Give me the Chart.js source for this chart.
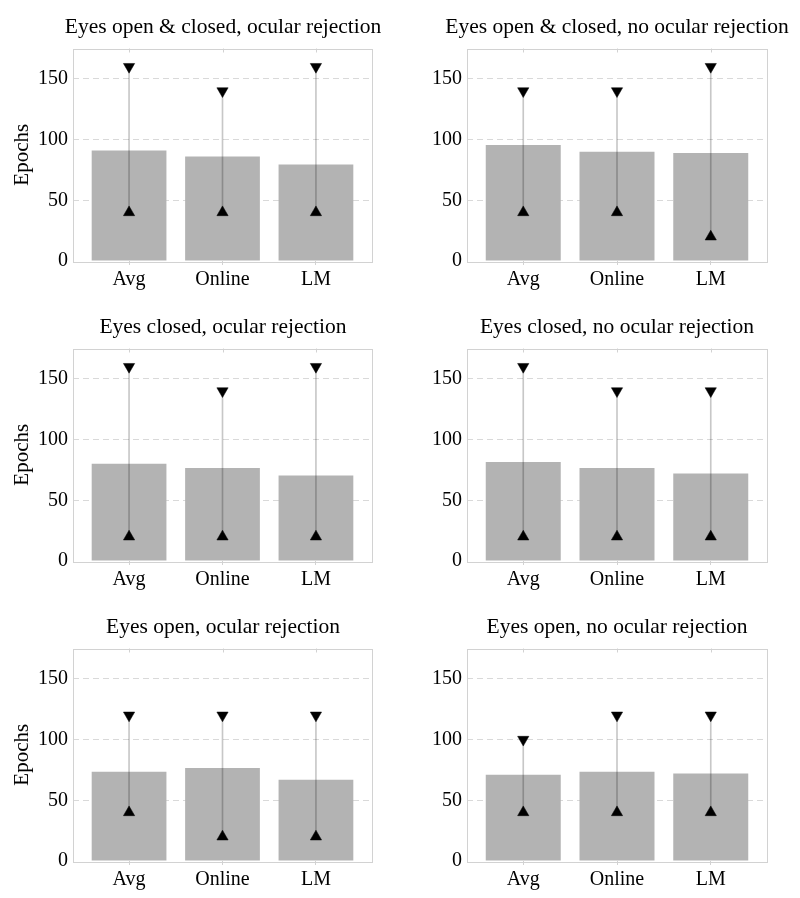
<!DOCTYPE html>
<html>
<head>
<meta charset="utf-8">
<script src="https://cdn.jsdelivr.net/npm/chart.js@4"></script>
<style>
  html, body { margin: 0; padding: 0; background: #fff; overflow: hidden; }
  #wrap { position: relative; width: 800px; height: 898px; }
  .panel { position: absolute; width: 400px; height: 300px; }
  .ttl {
    position: absolute; top: 14px; transform: translateX(-50%);
    white-space: nowrap; font-family: 'Liberation Serif', 'Times New Roman', serif;
    font-size: 21.5px; line-height: 25px; color: #000;
  }
</style>
</head>
<body>
<div id="wrap"></div>
<script>
const categories = ["Avg", "Online", "LM"];
const panelTitles = [
  "Eyes open & closed, ocular rejection",
  "Eyes open & closed, no ocular rejection",
  "Eyes closed, ocular rejection",
  "Eyes closed, no ocular rejection",
  "Eyes open, ocular rejection",
  "Eyes open, no ocular rejection",
];
// mean epochs (bars)
const meanEpochs = [
  [91, 86, 79.5],
  [95.5, 90, 89],
  [80, 76.5, 70.5],
  [81.5, 76.5, 72],
  [73.5, 76.5, 67],
  [71, 73.5, 72],
];
// max epochs (down triangles)
const maxEpochs = [
  [160, 140, 160],
  [140, 140, 160],
  [160, 140, 160],
  [160, 140, 140],
  [120, 120, 120],
  [100, 120, 120],
];
// min epochs (up triangles)
const minEpochs = [
  [40, 40, 40],
  [40, 40, 20],
  [20, 20, 20],
  [20, 20, 20],
  [40, 20, 20],
  [40, 40, 40],
];
const yTicks = [0, 50, 100, 150];
const yMax = 175;

const serif = "'Liberation Serif', 'Times New Roman', serif";
const frameColor = "#d2d2d2";

// box round the plot area plus small inward ticks at the top
const framePlugin = {
  id: "frame",
  afterDraw(chart) {
    const { ctx, chartArea: a, scales } = chart;
    ctx.save();
    ctx.strokeStyle = frameColor;
    ctx.lineWidth = 1;
    ctx.strokeRect(Math.round(a.left) + 0.5, Math.round(a.top) + 0.5,
      Math.round(a.right - a.left), Math.round(a.bottom - a.top));
    ctx.beginPath();
    categories.forEach((c, i) => {
      const x = Math.round(scales.x.getPixelForValue(i + 1)) + 0.5;
      ctx.moveTo(x, a.top);
      ctx.lineTo(x, a.top + 4);
    });
    ctx.stroke();
    ctx.restore();
  },
};

const wrap = document.getElementById("wrap");

panelTitles.forEach((title, p) => {
  const col = p % 2;
  const row = Math.floor(p / 2);
  const yAxisW = col === 0 ? 73 : 67;
  const div = document.createElement("div");
  div.className = "panel";
  div.style.left = col * 400 + "px";
  div.style.top = row * 300 + "px";
  const cv = document.createElement("canvas");
  div.appendChild(cv);
  const t = document.createElement("div");
  t.className = "ttl";
  t.textContent = title;
  t.style.left = yAxisW + 150 + "px";
  div.appendChild(t);
  wrap.appendChild(div);

  const pos = categories.map((c, i) => i + 1);
  const means = pos.map((x, i) => ({ x, y: meanEpochs[p][i] }));
  const highs = pos.map((x, i) => ({ x, y: maxEpochs[p][i] }));
  const lows = pos.map((x, i) => ({ x, y: minEpochs[p][i] }));
  const whiskers = pos.map((x, i) => ({ x, y: [minEpochs[p][i], maxEpochs[p][i]] }));

  new Chart(cv.getContext("2d"), {
    type: "bar",
    data: {
      datasets: [
        {
          type: "line",
          data: highs,
          showLine: false,
          pointStyle: "triangle",
          rotation: 180,
          pointRadius: 6.5,
          pointBackgroundColor: "#000",
          pointBorderColor: "#000",
          pointBorderWidth: 0.5,
          order: 0,
        },
        {
          type: "line",
          data: lows,
          showLine: false,
          pointStyle: "triangle",
          pointRadius: 6.5,
          pointBackgroundColor: "#000",
          pointBorderColor: "#000",
          pointBorderWidth: 0.5,
          order: 0,
        },
        {
          data: whiskers,
          backgroundColor: "rgba(0,0,0,0.22)",
          barThickness: 1,
          grouped: false,
          order: 1,
        },
        {
          data: means,
          backgroundColor: "#b3b3b3",
          barPercentage: 0.8,
          categoryPercentage: 1,
          grouped: false,
          order: 2,
        },
      ],
    },
    options: {
      responsive: true,
      maintainAspectRatio: false,
      animation: false,
      events: [],
      layout: { padding: { left: 0, right: col === 0 ? 28 : 33, top: 48.5, bottom: 0 } },
      plugins: {
        legend: { display: false },
        tooltip: { enabled: false },
        title: { display: false },
      },
      scales: {
        x: {
          type: "linear",
          offset: false,
          min: 0.4,
          max: 3.6,
          afterBuildTicks(scale) {
            scale.ticks = pos.map((v) => ({ value: v }));
          },
          grid: {
            display: true,
            offset: false,
            drawOnChartArea: false,
            drawTicks: true,
            tickLength: 4,
            color: frameColor,
          },
          border: { display: false },
          ticks: {
            color: "#000",
            padding: 3,
            font: { family: serif, size: 20 },
            callback: (v) => categories[v - 1],
          },
          afterFit(scale) { scale.height = 39; },
        },
        y: {
          min: 0,
          max: yMax,
          afterBuildTicks(scale) {
            scale.ticks = yTicks.map((v) => ({ value: v }));
          },
          grid: {
            color: (c) => (c.tick && c.tick.value === 0 ? "rgba(0,0,0,0)" : "#d9d9d9"),
            drawTicks: false,
          },
          border: { display: false, dash: [6, 4] },
          ticks: {
            color: "#000",
            padding: 5,
            font: { family: serif, size: 20 },
          },
          title: {
            display: col === 0,
            text: "Epochs",
            color: "#000",
            font: { family: serif, size: 21 },
            padding: { top: 10, bottom: 0 },
          },
          afterFit(scale) { scale.width = yAxisW; },
        },
      },
    },
    plugins: [framePlugin],
  });
});
</script>
</body>
</html>
